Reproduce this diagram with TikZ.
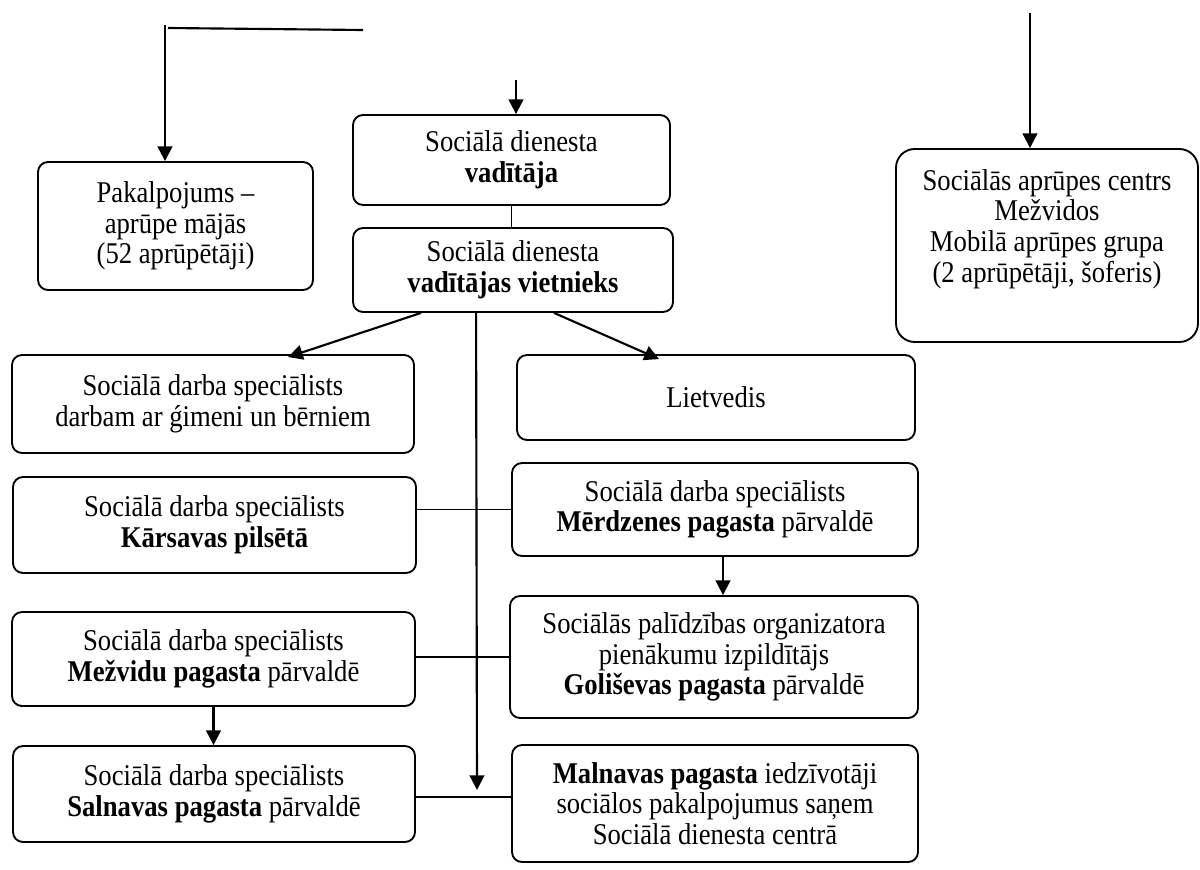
\documentclass[tikz,border=0pt]{standalone}
\usepackage{fontspec}
\setmainfont[FakeStretch=0.885]{Liberation Serif}
\usetikzlibrary{arrows.meta,calc}
\begin{document}
\begin{tikzpicture}[x=0.75pt,y=-0.75pt,
  box/.style={draw, line width=1.4pt, rounded corners=7.5pt, align=center, inner sep=0pt,
    font=\fontsize{22.6}{23}\selectfont},
  arr/.style={line width=1.6pt, -{Triangle[length=11pt,width=11pt]}},
  ln/.style={line width=1.6pt},
  thinln/.style={line width=1pt}]
\useasboundingbox (0,0) rectangle (1200,870);

% boxes
\node[box, minimum width=206.25pt, minimum height=96pt] (pak) at (175.5,226)
  {Pakalpojums --\\apr\=upe m\=aj\=as\\(52 apr\=up\=et\=aji)};
\node[box, minimum width=237.75pt, minimum height=67.5pt] (vad) at (511.5,160)
  {Soci\=al\=a dienesta\\\textbf{vad\=it\=aja}};
\node[box, minimum width=240pt, minimum height=63pt] (vie) at (513,270)
  {Soci\=al\=a dienesta\\\textbf{vad\=it\=ajas vietnieks}};
\node[box, rounded corners=14pt, minimum width=226.5pt, minimum height=144.75pt] (mob) at (1047,245.5)
  {Soci\=al\=as apr\=upes centrs\\Me\v{z}vidos\\Mobil\=a apr\=upes grupa\\(2 apr\=up\=et\=aji, \v{s}oferis)\\\strut};
\node[box, minimum width=301.5pt, minimum height=73.5pt] (fam) at (213,404)
  {Soci\=al\=a darba speci\=alists\\darbam ar \'gimeni un b\=erniem};
\node[box, minimum width=298.5pt, minimum height=63.75pt] (liet) at (716,397.5)
  {Lietvedis};
\node[box, minimum width=302.25pt, minimum height=72pt] (kar) at (214.5,525)
  {Soci\=al\=a darba speci\=alists\\\textbf{K\=arsavas pils\=et\=a}};
\node[box, minimum width=304.5pt, minimum height=69.75pt] (mer) at (715,509.5)
  {Soci\=al\=a darba speci\=alists\\\textbf{M\=erdzenes pagasta} p\=arvald\=e};
\node[box, minimum width=306pt, minimum height=91.5pt] (gol) at (714,657)
  {Soci\=al\=as pal\=idz\=ibas organizatora\\pien\=akumu izpild\=it\=ajs\\\textbf{Goli\v{s}evas pagasta} p\=arvald\=e};
\node[box, minimum width=302.25pt, minimum height=70.5pt] (mez) at (213.5,659)
  {Soci\=al\=a darba speci\=alists\\\textbf{Me\v{z}vidu pagasta} p\=arvald\=e};
\node[box, minimum width=301.5pt, minimum height=72pt] (sal) at (214,794)
  {Soci\=al\=a darba speci\=alists\\\textbf{Salnavas pagasta} p\=arvald\=e};
\node[box, minimum width=304.5pt, minimum height=87.75pt] (mal) at (715,803.5)
  {\textbf{Malnavas pagasta} iedz\=ivot\=aji\\soci\=alos pakalpojumus sa\c{n}em\\Soci\=al\=a dienesta centr\=a};

% free ends and helper points
\coordinate (tl1) at (165,25);
\coordinate (tl2) at (168,28);
\coordinate (tl3) at (363,30);
\coordinate (tc) at (516,80);
\coordinate (tr) at (1030,13);
\coordinate (cend) at (477,790);
\coordinate (ms) at ($(mer.south)+(8,0)$);
\coordinate (ss) at ($(sal.east)+(0,3)$);

% connectors
\draw[arr] (tl1) -- (tl1 |- pak.north);
\draw[ln] (tl2) -- (tl3);
\draw[arr] (tc) -- (tc |- vad.north);
\draw[arr] (tr) -- (tr |- mob.north);
\draw[thinln] (vad.south) -- (vad.south |- vie.north);
\draw[arr] ($(vie.south west)+(69,0)$) -- ($(fam.north west)+(277,3)$);
\draw[arr] ($(vie.south west)+(202,0)$) -- ($(liet.north west)+(143,5)$);
\draw[arr] ($(vie.south west)+(124,0)$) -- (cend);
\draw[thinln] (kar.east |- mer.west) -- (mer.west);
\draw[thinln] (mez.east |- gol.west) -- (gol.west);
\draw[thinln] (ss) -- (ss -| mal.west);
\draw[arr] (ms) -- (ms |- gol.north);
\draw[arr] (mez.south) -- (mez.south |- sal.north);
\end{tikzpicture}
\end{document}
